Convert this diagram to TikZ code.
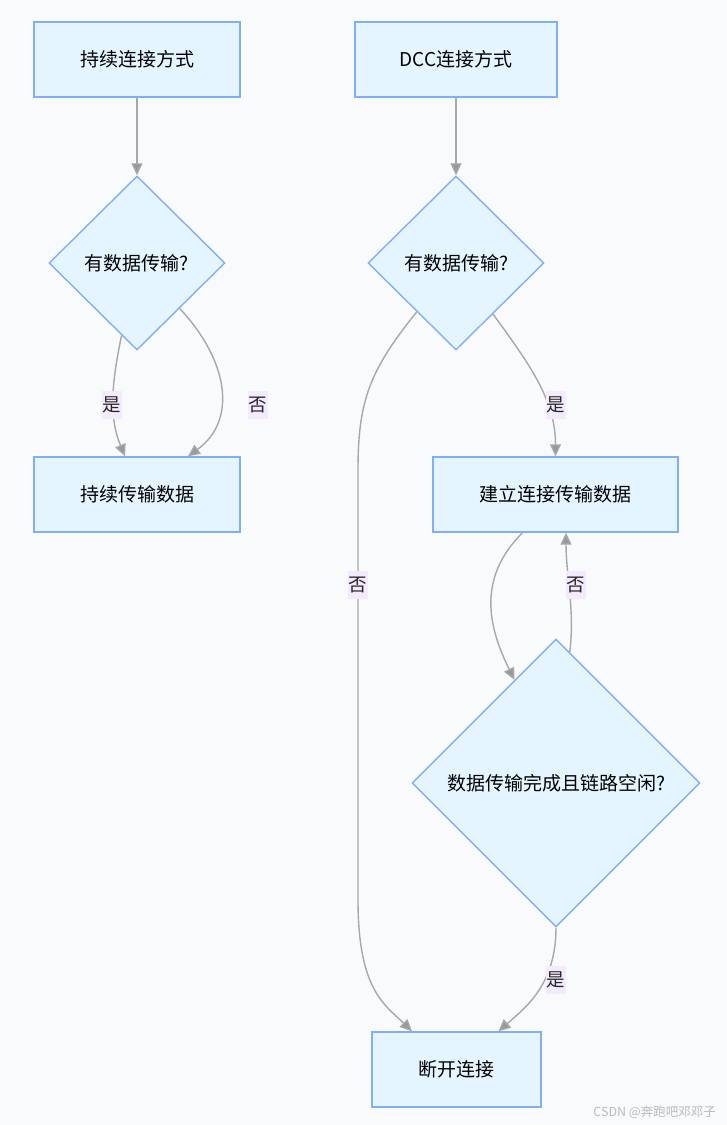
\documentclass[tikz,border=0pt]{standalone}
\usepackage{fontspec}
\setmainfont{Noto Sans CJK SC}
\usetikzlibrary{shapes.geometric,arrows.meta}
\definecolor{bgc}{HTML}{F9FAFC}
\definecolor{nodefill}{HTML}{E5F5FF}
\definecolor{nodeline}{HTML}{80AEF7}
\definecolor{edgec}{HTML}{A8A8A8}
\definecolor{tipc}{HTML}{999999}
\definecolor{lblfill}{HTML}{F3EAFD}
\definecolor{wmc}{HTML}{BBBBBB}
\tikzset{
  procbox/.style={draw=nodeline, fill=nodefill, line width=1.4pt, minimum height=75pt, inner sep=0pt, font=\fontsize{19}{23}\selectfont},
  decide/.style={diamond, draw=nodeline, fill=nodefill, line width=1.4pt, inner sep=0pt, font=\fontsize{19}{23}\selectfont},
  conn/.style={draw=edgec, line width=1.4pt, -{Triangle[length=12pt,width=11pt,fill=tipc]}},
  lbl/.style={fill=lblfill, inner sep=0pt, minimum width=20pt, minimum height=28pt, font=\fontsize{18.5}{22}\selectfont, text=black!85}
}
\begin{document}
\begin{tikzpicture}[x=1pt,y=-1pt]
\fill[bgc] (0,0) rectangle (727,1125);
\useasboundingbox (0,0) rectangle (727,1125);
% nodes
\node[procbox, minimum width=206pt] (A) at (137,59.5) {持续连接方式};
\node[decide, minimum width=176pt, minimum height=174pt] (B) at (137,263) {有数据传输?};
\node[procbox, minimum width=206pt] (C) at (137,494.5) {持续传输数据};
\node[procbox, minimum width=202pt] (D) at (456,59.5) {DCC连接方式};
\node[decide, minimum width=176pt, minimum height=174pt] (E) at (456,263) {有数据传输?};
\node[procbox, minimum width=245pt] (F) at (555.5,494.5) {建立连接传输数据};
\node[decide, minimum width=288pt, minimum height=288pt] (G) at (556,783) {数据传输完成且链路空闲?};
\node[procbox, minimum width=169pt] (H) at (456.5,1069.5) {断开连接};
% connectors
\draw[conn] (A) -- (B);
\draw[conn] (B) .. controls (110,390) and (110,420) .. ([xshift=-12pt]C.north);
\draw[conn] (B) .. controls (228,360) and (238,420) .. ([xshift=51pt]C.north);
\draw[conn] (D) -- (E);
\draw[conn] (E) .. controls (370,370) and (358,400) .. (358,470) -- (358,900) .. controls (358,990) and (385,1005) .. ([xshift=-44.5pt]H.north);
\draw[conn] (E) .. controls (530,365) and (555.5,400) .. (F.north);
\draw[conn] ([xshift=-33pt]F.south) .. controls (475,580) and (490,630) .. (G.112);
\draw[conn] (G.84) .. controls (575,610) and (566,575) .. ([xshift=10.5pt]F.south);
\draw[conn] (G.south) .. controls (556,985) and (525,1008) .. ([xshift=42pt]H.north);
% labels
\node[lbl] (l1) at (112,405) {是};
\node[lbl] (l2) at (258,405) {否};
\node[lbl] (l3) at (357.5,585) {否};
\node[lbl] (l4) at (556,405) {是};
\node[lbl] (l5) at (576,585) {否};
\node[lbl] (l6) at (556,980) {是};
% watermark
\node[text=wmc, font=\fontsize{12.5}{14}\selectfont, anchor=east, inner sep=0pt] (wm) at (716,1112) {CSDN @奔跑吧邓邓子};
\end{tikzpicture}
\end{document}
